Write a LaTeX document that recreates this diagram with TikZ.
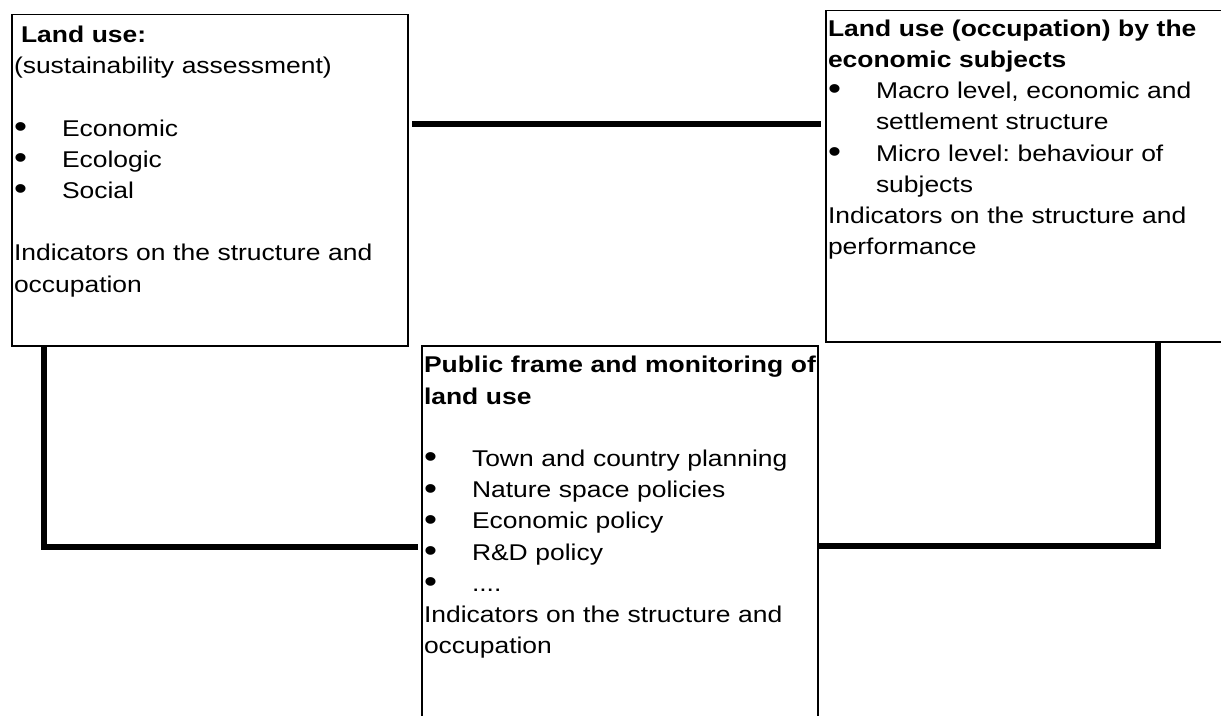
\documentclass[tikz,border=0pt]{standalone}
\usepackage{fontspec}
\setmainfont[FakeStretch=1.16]{Liberation Sans}
\usepackage{graphicx}
\usepackage{tikz}
\frenchspacing
\newcommand{\bulletmark}{\makebox[48pt][l]{\raisebox{-1.3pt}{\scalebox{1.4}{\textbullet}}}}
\newcommand{\bulletgap}{\hspace*{48pt}}

\begin{document}
\begin{tikzpicture}[
    x=1pt, y=-1pt,
    every node/.style={inner sep=0pt, outer sep=0pt},
    panel/.style={draw=black, line width=1.2pt, fill=white, anchor=north west},
    paneltext/.style={anchor=north west, text width=396pt, align=left,
        font=\fontsize{22.8}{31.2}\selectfont},
    link/.style={line width=6pt}
]
\useasboundingbox (0,0) rectangle (1221,715);

% Frames
\node[panel, minimum width=396pt, minimum height=331.3pt] (landuse) at (12,14.7) {};
\node[panel, minimum width=397pt, minimum height=331.3pt] (subjects) at (826,10.7) {};
\node[panel, minimum width=396pt, minimum height=384pt] (public) at (422,346) {};

% Land use: sustainability assessment
\node[paneltext] (landusetext) at ([xshift=2pt, yshift=-11.3pt]landuse.north west) {
\hspace*{7pt}\textbf{Land use:}\\
(sustainability assessment)\\[31.2pt]
\bulletmark Economic\\
\bulletmark Ecologic\\
\bulletmark Social\\[31.2pt]
Indicators on the structure and\\
occupation
};

% Economic subjects
\node[paneltext] (subjectstext) at ([xshift=2pt, yshift=-9pt]subjects.north west) {
\textbf{Land use (occupation) by the}\\
\textbf{economic subjects}\\
\bulletmark Macro level, economic and\\
\bulletgap settlement structure\\
\bulletmark Micro level: behaviour of\\
\bulletgap subjects\\
Indicators on the structure and\\
performance
};

% Public frame and monitoring
\node[paneltext] (publictext) at ([xshift=2pt, yshift=-10.4pt]public.north west) {
\textbf{Public frame and monitoring of}\\
\textbf{land use}\\[31.2pt]
\bulletmark Town and country planning\\
\bulletmark Nature space policies\\
\bulletmark Economic policy\\
\bulletmark R\&D policy\\
\bulletmark ....\\
Indicators on the structure and\\
occupation
};

% Links between the frames
\draw[link, shorten <=4pt, shorten >=5pt]
    ([yshift=-109pt]landuse.north east) -- ([yshift=-109pt]landuse.north east -| subjects.west);
\draw[link, shorten >=4pt]
    ([xshift=32pt]landuse.south west) |- ([yshift=-200.7pt]public.north west);
\draw[link]
    ([xshift=332pt]subjects.south west) |- ([yshift=-200.3pt]public.north east);

\end{tikzpicture}
\end{document}
